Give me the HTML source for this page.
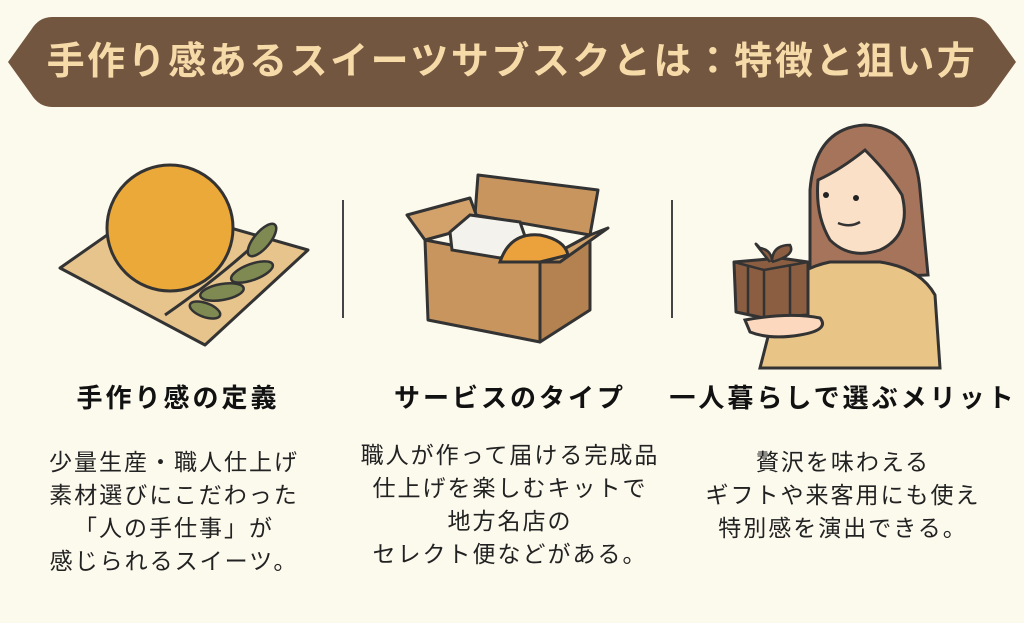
<!DOCTYPE html>
<html><head><meta charset="utf-8"><style>
body{margin:0;width:1024px;height:623px;background:#fcf9ed;overflow:hidden;position:relative;font-family:"Liberation Sans","Noto Sans CJK JP",sans-serif}
.t{position:absolute;left:0;top:32px;width:1024px;text-align:center;color:#f6dba9;font-size:38px;font-weight:bold;letter-spacing:2.5px;line-height:60px}
.h{position:absolute;font-weight:bold;font-size:26px;color:#111;text-align:center;width:360px;letter-spacing:3px;line-height:30px}
.b{position:absolute;font-size:23px;color:#222;text-align:center;width:360px;line-height:33px;letter-spacing:2px}
</style></head><body>
<svg width="1024" height="623" style="position:absolute;left:0;top:0">
<path d="M52 17 H972 Q985 17 993 30 L1016 62 L993 94 Q985 107 972 107 H52 Q39 107 31 94 L8 62 L31 30 Q39 17 52 17Z" fill="#735640"/>
<line x1="343" y1="200" x2="343" y2="318" stroke="#444" stroke-width="2"/>
<line x1="672" y1="200" x2="672" y2="318" stroke="#444" stroke-width="2"/>
<path d="M60 268 L150 205 L308 250 L205 345 Z" fill="#e6c48c" stroke="#333" stroke-width="3" stroke-linejoin="round"/>
<circle cx="170" cy="228" r="63" fill="#eba93a" stroke="#333" stroke-width="3"/>
<path d="M165 315 Q230 270 275 225" stroke="#333" stroke-width="3" fill="none"/>
<ellipse cx="262" cy="240" rx="20" ry="8" transform="rotate(-50 262 240)" fill="#7e8a52" stroke="#333" stroke-width="2.5"/>
<ellipse cx="252" cy="272" rx="22" ry="8" transform="rotate(-20 252 272)" fill="#7e8a52" stroke="#333" stroke-width="2.5"/>
<ellipse cx="222" cy="292" rx="22" ry="8" transform="rotate(-10 222 292)" fill="#7e8a52" stroke="#333" stroke-width="2.5"/>
<ellipse cx="205" cy="310" rx="16" ry="7" transform="rotate(20 205 310)" fill="#7e8a52" stroke="#333" stroke-width="2.5"/>
<path d="M425 240 L540 262 L540 342 L428 320 Z" fill="#c9955e" stroke="#333" stroke-width="3" stroke-linejoin="round"/>
<path d="M540 262 L590 235 L590 310 L540 342 Z" fill="#b48150" stroke="#333" stroke-width="3" stroke-linejoin="round"/>
<path d="M478 175 L598 190 L590 235 L475 215 Z" fill="#c9955e" stroke="#333" stroke-width="3" stroke-linejoin="round"/>
<path d="M425 240 L407 215 L470 198 L480 225 Z" fill="#d3a26b" stroke="#333" stroke-width="3" stroke-linejoin="round"/>
<path d="M590 235 L608 228 L560 262 L540 262 Z" fill="#d3a26b" stroke="#333" stroke-width="3" stroke-linejoin="round"/>
<path d="M450 232 L470 215 L520 222 L528 245 L500 258 L452 250Z" fill="#f4f2ec" stroke="#333" stroke-width="3"/>
<path d="M500 262 Q510 232 540 235 Q565 240 568 255 L540 262Z" fill="#eba23c" stroke="#333" stroke-width="3"/>
<path d="M810 190 Q815 128 865 125 Q915 128 920 190 L928 275 L810 280Z" fill="#a6745a" stroke="#333" stroke-width="3"/>
<path d="M818 180 Q840 170 865 150 Q890 175 902 195 Q912 235 880 250 Q850 260 830 240 Q815 215 818 180Z" fill="#fbe0c8" stroke="#333" stroke-width="3"/>
<circle cx="826" cy="195" r="3" fill="#222"/><circle cx="856" cy="198" r="3" fill="#222"/>
<path d="M838 223 Q850 228 860 222" stroke="#333" stroke-width="2.5" fill="none"/>
<path d="M760 368 L780 290 Q800 268 830 262 L880 262 Q920 268 935 295 L940 368Z" fill="#e9c487" stroke="#333" stroke-width="3"/>
<path d="M734 262 L780 258 L808 262 L808 315 L764 318 L736 312Z" fill="#8b5e42" stroke="#333" stroke-width="3" stroke-linejoin="round"/>
<path d="M734 262 L764 270 L808 262 M764 270 L764 318 M748 265 L748 314 M790 265 L790 316" stroke="#333" stroke-width="2.5" fill="none"/>
<path d="M770 262 Q748 235 760 248 Q772 250 772 262 Q772 245 790 245 Q796 255 772 262" fill="#8b5e42" stroke="#333" stroke-width="2.5"/>
<path d="M745 320 Q790 312 820 318 Q830 330 800 335 Q770 340 750 332Z" fill="#fbd8be" stroke="#333" stroke-width="3"/>
</svg>
<div class="t">手作り感あるスイーツサブスクとは：特徴と狙い方</div>
<div class="h" style="left:-2px;top:383px">手作り感の定義</div>
<div class="h" style="left:330px;top:383px">サービスのタイプ</div>
<div class="h" style="left:663px;top:383px">一人暮らしで選ぶメリット</div>
<div class="b" style="left:-6px;top:446px">少量生産・職人仕上げ<br>素材選びにこだわった<br>「人の手仕事」が<br>感じられるスイーツ。</div>
<div class="b" style="left:330px;top:439px">職人が作って届ける完成品<br>仕上げを楽しむキットで<br>地方名店の<br>セレクト便などがある。</div>
<div class="b" style="left:663px;top:446px">贅沢を味わえる<br>ギフトや来客用にも使え<br>特別感を演出できる。</div>
</body></html>
